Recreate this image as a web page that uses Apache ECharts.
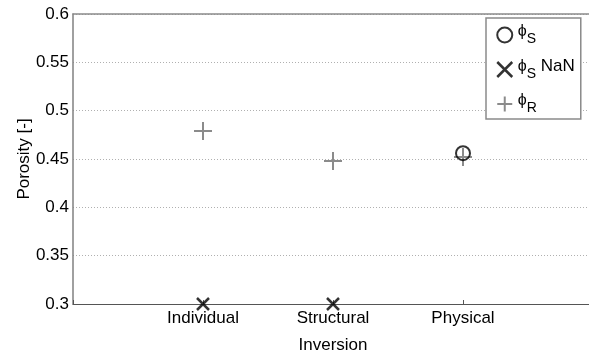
<!DOCTYPE html>
<html><head><meta charset="utf-8">
<script src="https://cdn.jsdelivr.net/npm/echarts@6/dist/echarts.min.js"></script>
<style>html,body{margin:0;padding:0;background:#fff}#c{width:589px;height:356px}</style>
</head><body><div id="c"></div>
<script>
const categories = ['', 'Individual', 'Structural', 'Physical', ''];
const yTicks = [0.3, 0.35, 0.4, 0.45, 0.5, 0.55, 0.6];
const phiS = [null, null, null, 0.456, null];
const phiSNaN = [null, 0.3, 0.3, null, null];
const phiR = [null, 0.479, 0.448, 0.452, null];

const plusPath = 'path://M0,5L10,5M5,0L5,10';
const crossPath = 'path://M0,0L10,10M10,0L0,10';
const font = 'Liberation Sans, Arial, sans-serif';

const chart = echarts.init(document.getElementById('c'), null, {renderer: 'canvas'});
const legendNames = {phiS: '{p|ϕ}{s|S}', phiSNaN: '{p|ϕ}{s|S}{n| NaN}', phiR: '{p|ϕ}{s|R}'};
chart.setOption({
  animation: false,
  grid: {left: 73, top: 14, width: 520, height: 290, show: false, outerBoundsMode: 'none', containLabel: false},
  legend: {
    orient: 'vertical', left: 486, top: 18, width: 96,
    padding: [6, 6, 4, 10], itemGap: 12, itemWidth: 16, itemHeight: 15,
    borderColor: '#8a8a8a', borderWidth: 1.5, backgroundColor: '#fff',
    data: [
      {name: 'phiS', icon: 'circle', itemStyle: {color: 'transparent', borderColor: '#000', borderWidth: 2}},
      {name: 'phiSNaN', icon: crossPath, itemStyle: {color: 'transparent', borderColor: '#000', borderWidth: 2.5}},
      {name: 'phiR', icon: plusPath, itemStyle: {color: 'transparent', borderColor: '#6e6e6e', borderWidth: 2}}
    ],
    formatter: n => legendNames[n],
    textStyle: {
      fontFamily: font, fontSize: 17, color: '#000',
      rich: {
        p: {fontFamily: font, fontSize: 16, color: '#000', verticalAlign: 'bottom', padding: [0, 0, 6, 0]},
        n: {fontFamily: font, fontSize: 17, color: '#000', verticalAlign: 'bottom', padding: [0, 0, 6, 0]},
        s: {fontFamily: font, fontSize: 14, color: '#000', verticalAlign: 'bottom', padding: [0, 0, 0, 0]}
      }
    }
  },
  xAxis: [{
    type: 'category', data: categories, boundaryGap: false,
    name: 'Inversion', nameLocation: 'middle', nameGap: 33, nameMoveOverlap: false,
    nameTextStyle: {fontFamily: font, fontSize: 17, color: '#000'},
    axisLine: {show: true, lineStyle: {color: '#555', width: 1}},
    axisTick: {show: true, inside: true, length: 4, lineStyle: {color: '#555'}},
    axisLabel: {fontFamily: font, fontSize: 17, color: '#000', margin: 6, interval: 0},
    splitLine: {show: false}
  }, {
    type: 'category', data: categories, boundaryGap: false, position: 'top',
    axisLine: {show: true, lineStyle: {color: '#8a8a8a', width: 1.5}},
    axisTick: {show: false}, axisLabel: {show: false}, splitLine: {show: false}
  }],
  yAxis: {
    type: 'value', min: 0.3, max: 0.6, interval: 0.05,
    name: 'Porosity [-]', nameLocation: 'middle', nameGap: 40, nameMoveOverlap: false,
    nameTextStyle: {fontFamily: font, fontSize: 17, color: '#000'},
    axisLine: {show: true, lineStyle: {color: '#808080', width: 1.5}},
    axisTick: {show: false},
    axisLabel: {fontFamily: font, fontSize: 17, color: '#000', margin: 4,
      formatter: v => String(+v.toFixed(2))},
    splitLine: {show: true, lineStyle: {color: '#b0b0b0', type: [1, 2], width: 1}}
  },
  series: [
    {name: 'phiR', type: 'scatter', data: phiR, symbol: plusPath, symbolSize: 18, z: 3,
      itemStyle: {color: 'transparent', borderColor: '#6e6e6e', borderWidth: 2}},
    {name: 'phiS', type: 'scatter', data: phiS, symbol: 'circle', symbolSize: 14, z: 4,
      itemStyle: {color: 'transparent', borderColor: '#000', borderWidth: 2}},
    {name: 'phiSNaN', type: 'scatter', data: phiSNaN, symbol: crossPath, symbolSize: 12, z: 5,
      itemStyle: {color: 'transparent', borderColor: '#000', borderWidth: 2.5}}
  ]
});
</script></body></html>
